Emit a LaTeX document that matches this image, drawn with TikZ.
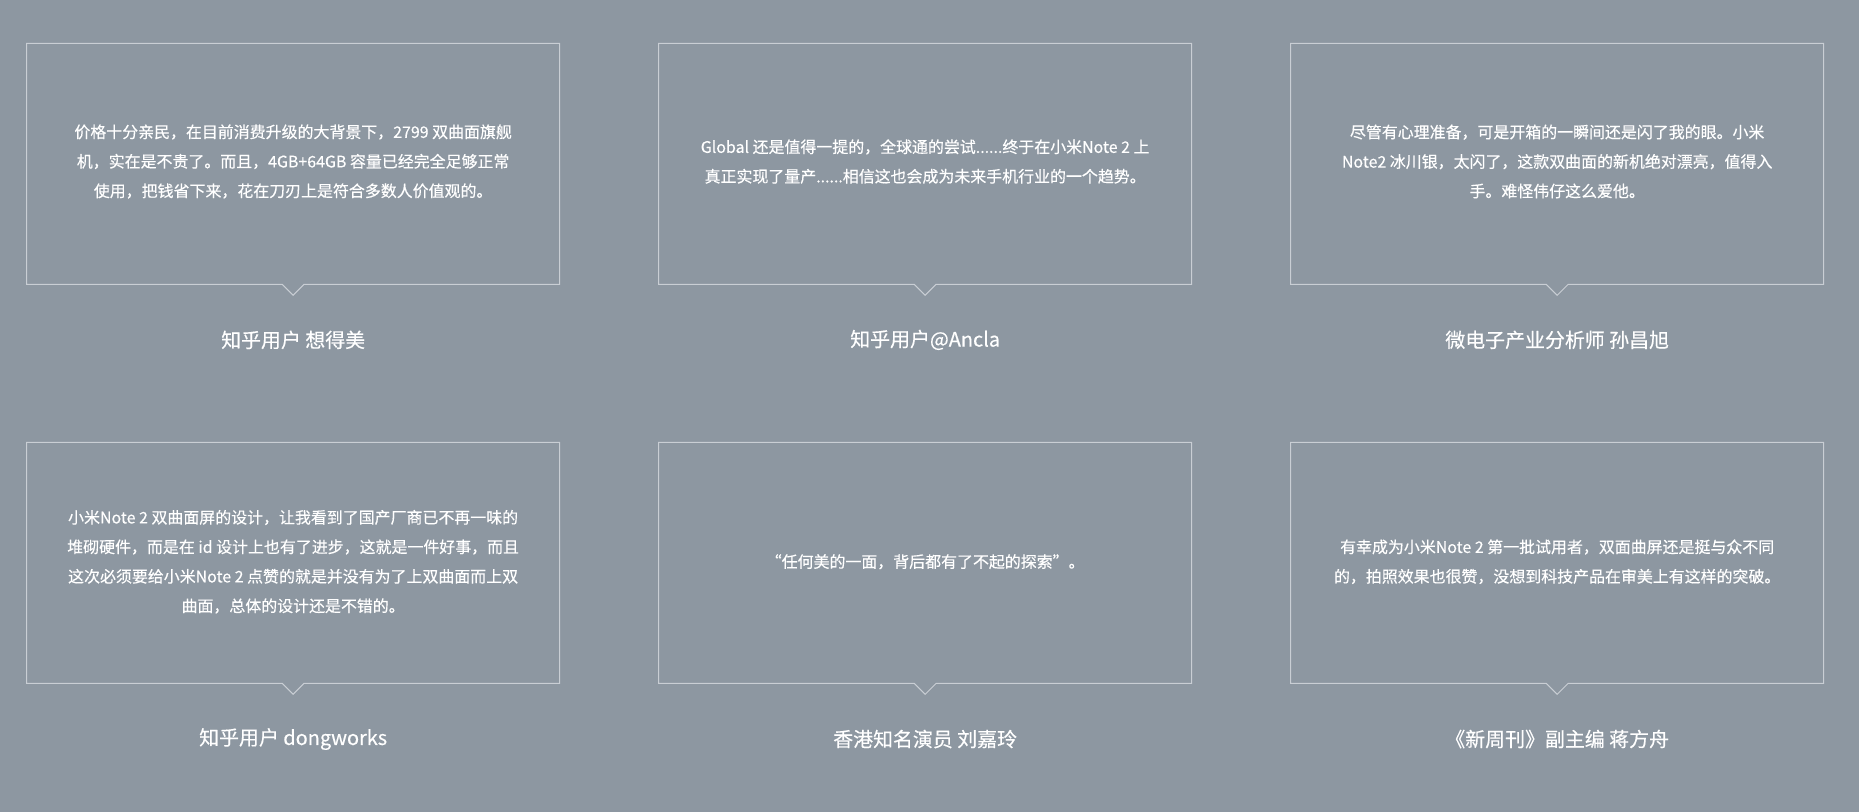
\documentclass[tikz,border=0pt]{standalone}
\usepackage{fontspec}
\newfontfamily\cjk[FakeBold=0.35]{Noto Sans CJK SC}
\usepackage{tikz}
\usetikzlibrary{positioning}
\definecolor{bggray}{RGB}{141,151,161}
\definecolor{cardline}{RGB}{201,206,212}

\begin{document}
\begin{tikzpicture}[
card/.style={draw=cardline,line width=0.75pt,line join=miter},
quote/.style={font=\cjk\fontsize{12pt}{22.2pt}\selectfont,text=white,align=center,inner sep=0pt},
who/.style={font=\cjk\fontsize{15pt}{18pt}\selectfont,text=white,inner sep=0pt}]
\fill[bggray] (0,0) rectangle (49.186,21.484);

\draw[card] (0.706,20.338) -- (14.806,20.338) -- (14.806,13.962) -- (8.047,13.962) -- (7.756,13.671) -- (7.465,13.962) -- (0.706,13.962) -- cycle;
\draw[card] (17.428,20.338) -- (31.528,20.338) -- (31.528,13.962) -- (24.769,13.962) -- (24.478,13.671) -- (24.187,13.962) -- (17.428,13.962) -- cycle;
\draw[card] (34.150,20.338) -- (48.250,20.338) -- (48.250,13.962) -- (41.491,13.962) -- (41.200,13.671) -- (40.909,13.962) -- (34.150,13.962) -- cycle;
\draw[card] (0.706,9.782) -- (14.806,9.782) -- (14.806,3.405) -- (8.047,3.405) -- (7.756,3.114) -- (7.465,3.405) -- (0.706,3.405) -- cycle;
\draw[card] (17.428,9.782) -- (31.528,9.782) -- (31.528,3.405) -- (24.769,3.405) -- (24.478,3.114) -- (24.187,3.405) -- (17.428,3.405) -- cycle;
\draw[card] (34.150,9.782) -- (48.250,9.782) -- (48.250,3.405) -- (41.491,3.405) -- (41.200,3.114) -- (40.909,3.405) -- (34.150,3.405) -- cycle;

\node[quote] (T1) at (7.756,17.21) {价格十分亲民，在目前消费升级的大背景下，2799 双曲面旗舰\\机，实在是不贵了。而且，4GB+64GB 容量已经完全足够正常\\使用，把钱省下来，花在刀刃上是符合多数人价值观的。};
\node[quote] (T2) at (24.478,17.21) {Global 还是值得一提的，全球通的尝试......终于在小米Note 2 上\\真正实现了量产......相信这也会成为未来手机行业的一个趋势。};
\node[quote] (T3) at (41.200,17.21) {尽管有心理准备，可是开箱的一瞬间还是闪了我的眼。小米\\Note2 冰川银，太闪了，这款双曲面的新机绝对漂亮，值得入\\手。难怪伟仔这么爱他。};
\node[quote] (T4) at (7.756,6.62) {小米Note 2 双曲面屏的设计，让我看到了国产厂商已不再一味的\\堆砌硬件，而是在 id 设计上也有了进步，这就是一件好事，而且\\这次必须要给小米Note 2 点赞的就是并没有为了上双曲面而上双\\曲面，总体的设计还是不错的。};
\node[quote] (T5) at (24.478,6.62) {“任何美的一面，背后都有了不起的探索”。};
\node[quote] (T6) at (41.200,6.62) {有幸成为小米Note 2 第一批试用者，双面曲屏还是挺与众不同\\的，拍照效果也很赞，没想到科技产品在审美上有这样的突破。};

\node[who] (N1) at (7.756,12.49) {知乎用户 想得美};
\node[who] (N2) at (24.478,12.49) {知乎用户@Ancla};
\node[who] (N3) at (41.200,12.49) {微电子产业分析师 孙昌旭};
\node[who] (N4) at (7.756,1.93) {知乎用户 dongworks};
\node[who] (N5) at (24.478,1.93) {香港知名演员 刘嘉玲};
\node[who] (N6) at (41.200,1.93) {《新周刊》副主编 蒋方舟};

\end{tikzpicture}
\end{document}
